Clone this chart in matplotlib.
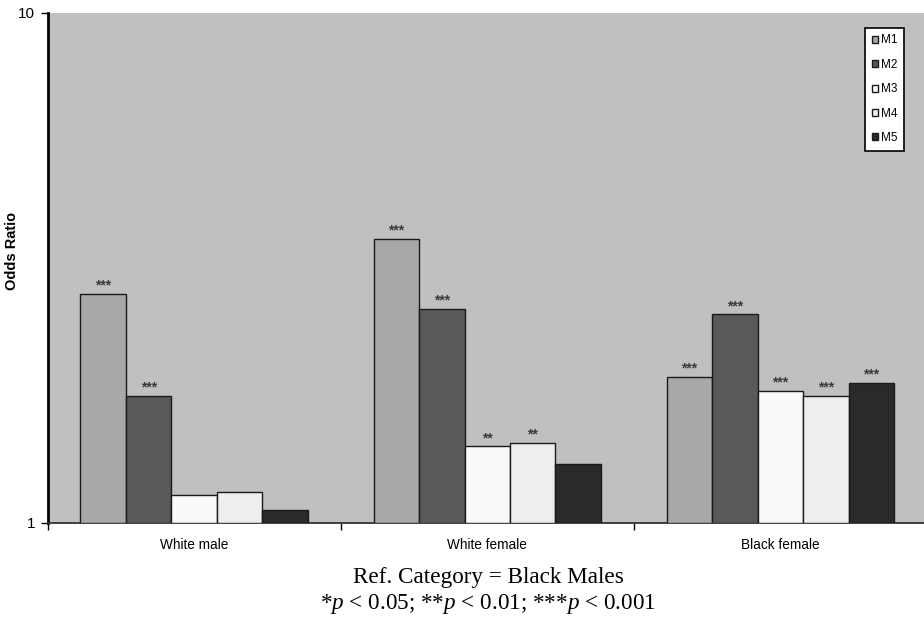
import numpy as np
import matplotlib
matplotlib.use("Agg")
from matplotlib import pyplot as plt
from matplotlib.ticker import FixedLocator, NullLocator, FixedFormatter

plt.rcParams["font.family"] = ["Liberation Sans", "DejaVu Sans"]
plt.rcParams["mathtext.fontset"] = "custom"
plt.rcParams["mathtext.rm"] = "Liberation Serif"
plt.rcParams["mathtext.it"] = "Liberation Serif:italic"

# odds ratios per model for each group (reference: black males)
groups = ["White male", "White female", "Black female"]
models = ["M1", "M2", "M3", "M4", "M5"]
m1 = [2.81, 3.60, 1.93]
m2 = [1.77, 2.62, 2.56]
m3 = [1.13, 1.41, 1.81]
m4 = [1.15, 1.43, 1.77]
m5 = [1.06, 1.30, 1.88]
stars = [
    ["***", "***", "", "", ""],
    ["***", "***", "**", "**", ""],
    ["***", "***", "***", "***", "***"],
]

colors = ["#a8a8a8", "#595959", "#fafafa", "#eeeeee", "#2a2a2a"]
series = [m1, m2, m3, m4, m5]

fig = plt.figure(figsize=(9.24, 6.21), dpi=100)
W, H = 924, 621
# axes box in pixels: left, bottom, right, top
l, b, r, t = 47.5, 621 - 522.5, 927, 621 - 12.5
ax = fig.add_axes([l / W, b / H, (r - l) / W, (t - b) / H])
ax.set_facecolor("#c0c0c0")
ax.set_yscale("log")
ax.set_ylim(1, 10)
ax.set_xlim(-0.5, 2.5)

x = np.arange(len(groups))
bw = 0.155
for i, vals in enumerate(series):
    pos = x + (i - 2) * bw
    ax.bar(pos, np.array(vals) - 1, bottom=1, width=bw, color=colors[i],
           edgecolor="#1a1a1a", linewidth=1.0, label=models[i], zorder=3)
    for j, v in enumerate(vals):
        if stars[j][i]:
            ax.text(pos[j], v * 1.006, stars[j][i], ha="center", va="bottom",
                    fontsize=10, fontweight="bold", color="#3a3a3a", zorder=4)

# axes styling
for s in ["top", "right"]:
    ax.spines[s].set_visible(False)
ax.spines["left"].set_linewidth(2.0)
ax.spines["bottom"].set_linewidth(1.3)
ax.spines["bottom"].set_color("#333333")

ax.yaxis.set_major_locator(FixedLocator([1, 10]))
ax.yaxis.set_major_formatter(FixedFormatter(["1", "10"]))
ax.yaxis.set_minor_locator(NullLocator())
ax.tick_params(axis="y", which="major", length=5, width=1, labelsize=11,
               pad=4)
ax.set_ylabel("Odds Ratio", fontsize=10.5, fontweight="bold")
ax.yaxis.set_label_coords(-(47.5 - 12.5) / (r - l), (522.5 - 251) / 510)
ax.yaxis.label.set_verticalalignment("center")

ax.xaxis.set_major_locator(FixedLocator([-0.5, 0.5, 1.5, 2.5]))
ax.xaxis.set_major_formatter(FixedFormatter(["", "", "", ""]))
ax.xaxis.set_minor_locator(FixedLocator(list(x)))
ax.xaxis.set_minor_formatter(FixedFormatter(groups))
ax.tick_params(axis="x", which="major", length=5, width=1, direction="out")
ax.tick_params(axis="x", which="minor", length=0, labelsize=9.8, pad=11)

leg = ax.legend(loc="upper right", bbox_to_anchor=((904 - l) / (r - l), 1 - (28 - 12.5) / (t - b)),
                fontsize=8.5, handlelength=0.55, handleheight=0.55,
                handletextpad=0.25, labelspacing=1.05, borderpad=0.55,
                fancybox=False, framealpha=1, edgecolor="black",
                borderaxespad=0)
leg.get_frame().set_linewidth(1.2)

fig.text(488 / W, 1 - 577 / H, "Ref. Category = Black Males",
         family="Liberation Serif", fontsize=16.7, ha="center", va="center")
fig.text(488 / W, 1 - 604 / H,
         r"*$p$ < 0.05; **$p$ < 0.01; ***$p$ < 0.001",
         family="Liberation Serif", fontsize=16.7, ha="center", va="center")

fig.savefig("out.png", dpi=100)
